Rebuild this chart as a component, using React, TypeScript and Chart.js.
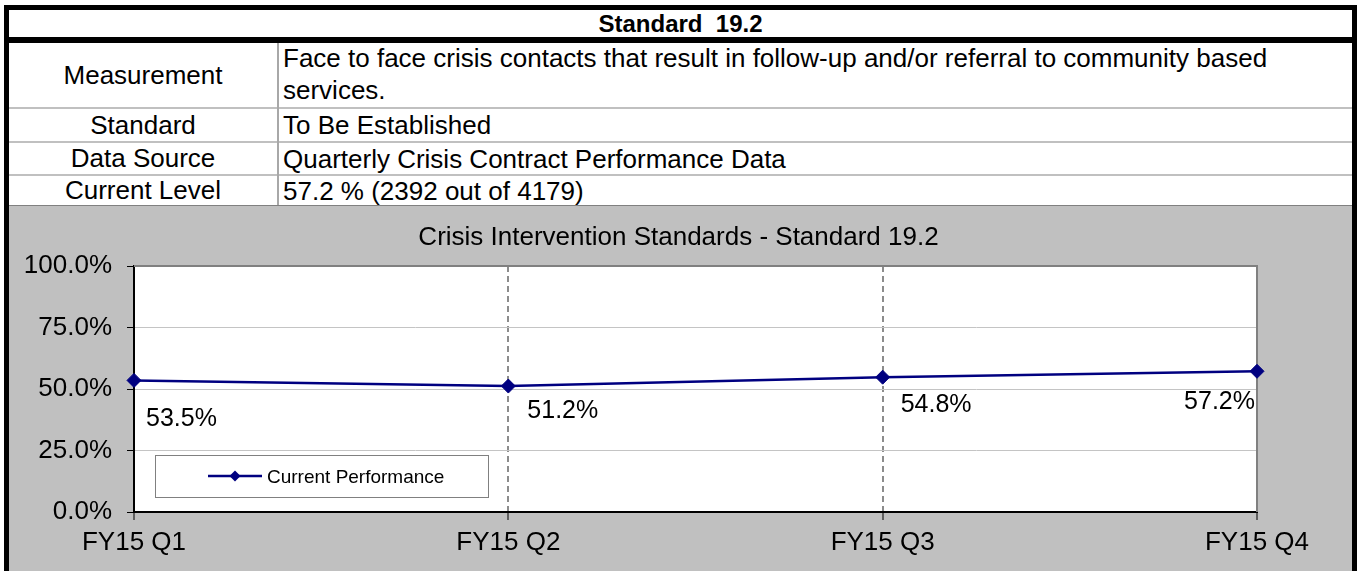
import React, { useEffect, useRef } from 'react';
import { Chart, registerables } from 'chart.js';

Chart.register(...registerables);

// ---------- data ----------
const categories = ['FY15 Q1', 'FY15 Q2', 'FY15 Q3', 'FY15 Q4'];
const performance = [53.5, 51.2, 54.8, 57.2];
const yTickValues = [0, 25, 50, 75, 100];
const seriesLabel = 'Current Performance';
const chartTitle = 'Crisis Intervention Standards - Standard 19.2';

const tableTitle = 'Standard  19.2';
const rowLabels = ['Measurement', 'Standard', 'Data Source', 'Current Level'];
const rowValues = [
  ['Face to face crisis contacts that result in follow-up and/or referral to community based', 'services.'],
  ['To Be Established'],
  ['Quarterly Crisis Contract Performance Data'],
  ['57.2 % (2392 out of 4179)'],
];

// ---------- styles ----------
const FONT = '"Liberation Sans", Arial, Helvetica, sans-serif';
const LINE_COLOR = '#000080';
// label placement relative to each point (style only)
const labelOffsets = [
  { dx: 12, dy: 46, align: 'left' },
  { dx: 19, dy: 32, align: 'left' },
  { dx: 18, dy: 35, align: 'left' },
  { dx: -2, dy: 38, align: 'right' },
];
const rowBoxes = [
  { top: 43, height: 64 },
  { top: 109, height: 32 },
  { top: 143, height: 31 },
  { top: 176, height: 29 },
];

const plotPlugin = {
  id: 'plotDecor',
  beforeDraw(chart: any) {
    const { ctx, chartArea: a } = chart;
    ctx.save();
    ctx.fillStyle = '#ffffff';
    ctx.fillRect(a.left, a.top, a.right - a.left, a.bottom - a.top);
    // title
    ctx.fillStyle = '#000';
    ctx.font = `26px ${FONT}`;
    ctx.textAlign = 'center';
    ctx.textBaseline = 'alphabetic';
    ctx.fillText(chartTitle, chart.width / 2 - 2, 39);
    ctx.restore();
  },
  beforeDatasetsDraw(chart: any) {
    const { ctx, chartArea: a } = chart;
    ctx.save();
    ctx.strokeStyle = '#808080';
    ctx.lineWidth = 2;
    ctx.beginPath();
    ctx.moveTo(a.left, a.top);
    ctx.lineTo(a.right, a.top);
    ctx.lineTo(a.right, a.bottom);
    ctx.stroke();
    ctx.restore();
  },
  afterDraw(chart: any) {
    const { ctx } = chart;
    const meta = chart.getDatasetMeta(0);
    const ds = chart.data.datasets[0];
    ctx.save();
    // data labels
    ctx.fillStyle = '#000';
    ctx.font = `25px ${FONT}`;
    ctx.textBaseline = 'alphabetic';
    meta.data.forEach((pt: any, i: number) => {
      const o = labelOffsets[i];
      ctx.textAlign = o.align;
      ctx.fillText(`${Number(ds.data[i]).toFixed(1)}%`, pt.x + o.dx, pt.y + o.dy);
    });
    // legend
    const bx = 146.5, by = 249.5, bw = 333, bh = 42;
    ctx.fillStyle = '#ffffff';
    ctx.fillRect(bx, by, bw, bh);
    ctx.strokeStyle = '#808080';
    ctx.lineWidth = 1;
    ctx.strokeRect(bx, by, bw, bh);
    ctx.strokeStyle = ds.borderColor;
    ctx.lineWidth = 2.5;
    ctx.beginPath();
    ctx.moveTo(199, 270);
    ctx.lineTo(253, 270);
    ctx.stroke();
    ctx.fillStyle = ds.borderColor;
    ctx.beginPath();
    const r = 5.5;
    ctx.moveTo(226, 270 - r);
    ctx.lineTo(226 + r, 270);
    ctx.lineTo(226, 270 + r);
    ctx.lineTo(226 - r, 270);
    ctx.closePath();
    ctx.fill();
    ctx.fillStyle = '#000';
    ctx.font = `19px ${FONT}`;
    ctx.textAlign = 'left';
    ctx.fillText(ds.label, 258, 277);
    ctx.restore();
  },
};

export default function App() {
  const canvasRef = useRef<HTMLCanvasElement | null>(null);

  useEffect(() => {
    if (!canvasRef.current) return;
    const chart = new Chart(canvasRef.current, {
      type: 'line',
      data: {
        labels: categories,
        datasets: [
          {
            label: seriesLabel,
            data: performance,
            borderColor: LINE_COLOR,
            backgroundColor: LINE_COLOR,
            borderWidth: 2.5,
            pointStyle: 'rectRot',
            pointRadius: 7,
            pointHoverRadius: 7,
            pointBackgroundColor: LINE_COLOR,
            pointBorderColor: LINE_COLOR,
            pointBorderWidth: 1,
            tension: 0,
            fill: false,
            clip: false,
          } as any,
        ],
      },
      options: {
        responsive: false,
        animation: false,
        events: [],
        layout: { padding: { top: 60, right: 95, left: 0, bottom: 0 } },
        plugins: {
          legend: { display: false },
          title: { display: false },
          tooltip: { enabled: false },
        },
        scales: {
          x: {
            type: 'category',
            offset: false,
            grid: {
              color: (c: any) => (c.index === 1 || c.index === 2 ? '#8c8c8c' : 'rgba(0,0,0,0)'),
              lineWidth: 2,
              tickColor: '#000',
              tickLength: 8,
              tickWidth: 1,
            },
            border: { display: true, color: '#000', width: 2, dash: [6, 4] },
            ticks: {
              color: '#000',
              font: { family: FONT, size: 26 },
              padding: 7,
              autoSkip: false,
              maxRotation: 0,
              minRotation: 0,
            },
            afterFit: (s: any) => {
              s.height = 59;
            },
          },
          y: {
            min: 0,
            max: 100,
            afterBuildTicks: (s: any) => {
              s.ticks = yTickValues.map((v) => ({ value: v }));
            },
            grid: {
              color: (c: any) =>
                c.tick && (c.tick.value === 0 || c.tick.value === 100) ? 'rgba(0,0,0,0)' : '#c4c4c4',
              lineWidth: 1,
              tickColor: '#000',
              tickLength: 7,
              tickWidth: 1,
            },
            border: { display: true, color: '#000', width: 2 },
            ticks: {
              color: '#000',
              font: { family: FONT, size: 26 },
              padding: 15,
              callback: (v: any) => `${Number(v).toFixed(1)}%`,
            },
            afterFit: (s: any) => {
              s.width = 125;
            },
          },
        },
      } as any,
      plugins: [plotPlugin],
    });
    return () => chart.destroy();
  }, []);

  const black = '#000';
  return (
    <div
      style={{
        position: 'absolute',
        left: 0,
        top: 0,
        width: 1357,
        height: 571,
        overflow: 'hidden',
        background: '#fff',
        fontFamily: FONT,
        color: '#000',
      }}
    >
      {/* title row */}
      <div
        style={{
          position: 'absolute',
          left: 9,
          top: 10,
          width: 1343,
          height: 27,
          lineHeight: '27px',
          textAlign: 'center',
          fontWeight: 'bold',
          fontSize: 24,
          whiteSpace: 'pre',
        }}
      >
        {tableTitle}
      </div>

      {/* rows */}
      {rowLabels.map((lab, i) => (
        <React.Fragment key={lab}>
          <div
            style={{
              position: 'absolute',
              left: 9,
              top: rowBoxes[i].top,
              width: 268,
              height: rowBoxes[i].height,
              display: 'flex',
              alignItems: 'center',
              justifyContent: 'center',
              fontSize: 26,
              whiteSpace: 'nowrap',
            }}
          >
            {lab}
          </div>
          <div
            style={{
              position: 'absolute',
              left: 283,
              top: rowBoxes[i].top + (rowValues[i].length > 1 ? -1 : 0),
              width: 1065,
              height: rowBoxes[i].height,
              display: 'flex',
              flexDirection: 'column',
              justifyContent: 'center',
              fontSize: 26,
              lineHeight: rowValues[i].length > 1 ? '32px' : '30px',
              whiteSpace: 'nowrap',
            }}
          >
            {rowValues[i].map((t, k) => (
              <div key={k}>{t}</div>
            ))}
          </div>
        </React.Fragment>
      ))}

      {/* row separators */}
      {[107, 141, 174].map((y) => (
        <div key={y} style={{ position: 'absolute', left: 9, top: y, width: 1343, height: 2, background: '#c0c0c0' }} />
      ))}
      {/* column divider */}
      <div style={{ position: 'absolute', left: 277, top: 43, width: 2, height: 162, background: '#a8a8a8' }} />

      {/* chart area */}
      <div style={{ position: 'absolute', left: 9, top: 205, width: 1343, height: 1, background: '#808080' }} />
      <div style={{ position: 'absolute', left: 9, top: 206, width: 1343, height: 365, background: '#c0c0c0' }}>
        <canvas ref={canvasRef} width={1343} height={365} style={{ display: 'block', width: 1343, height: 365 }} />
      </div>

      {/* black frame */}
      <div style={{ position: 'absolute', left: 4, top: 5, width: 1353, height: 5, background: black }} />
      <div style={{ position: 'absolute', left: 4, top: 37, width: 1353, height: 6, background: black }} />
      <div style={{ position: 'absolute', left: 4, top: 5, width: 5, height: 566, background: black }} />
      <div style={{ position: 'absolute', left: 1352, top: 5, width: 5, height: 566, background: black }} />
    </div>
  );
}
